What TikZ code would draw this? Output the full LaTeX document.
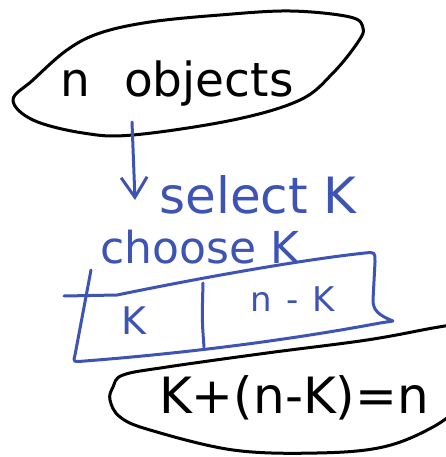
\documentclass[tikz,border=0pt]{standalone}
\usepackage{fontspec}
\setmainfont{DejaVu Sans}
\usetikzlibrary{arrows.meta}
\definecolor{ink}{RGB}{62,84,180}
\tikzset{
  pen/.style={line width=3pt, line cap=round, line join=round},
  bluepen/.style={pen, draw=ink},
  hand/.style={inner sep=0pt, anchor=base},
}
\begin{document}
\begin{tikzpicture}[x=1pt,y=-1pt]
\useasboundingbox (0,0) rectangle (446,457);
\clip (0,0) rectangle (446,457);
% top blob
\draw[pen] plot[smooth cycle, tension=0.6] coordinates {(13,100) (33,80) (67,50) (100,33) (150,22) (220,15) (290,11) (350,17) (363,28) (358,42) (333,73) (300,100) (233,120) (133,135) (83,133) (33,120)};
\node[hand, font=\fontsize{47}{47}\selectfont] (objs) at (177,97) {n\hspace{34pt}objects};
% arrow
\coordinate (aS) at (132,122);
\coordinate (aE) at (135,200);
\draw[bluepen, -{Straight Barb[length=20pt,width=26pt]}] (aS) -- (aE);
\node[hand, text=ink, font=\fontsize{50}{50}\selectfont] (sel) at (258,213) {select K};
\node[hand, text=ink, font=\fontsize{44}{44}\selectfont] (cho) at (200,263) {choose K};
% box
\draw[bluepen] (91,270) -- (75,355) .. controls (73,362) .. (85,361)
  .. controls (200,352) and (300,338) .. (380,323) -- (393,321)
  .. controls (378,315) and (373,310) .. (373,300) -- (375,262)
  .. controls (375,252) .. (365,253)
  .. controls (300,260) and (200,278) .. (117,295) -- (64,296);
\draw[bluepen] (203,283) .. controls (202,320) .. (204,347);
\node[hand, text=ink, font=\fontsize{38}{38}\selectfont] (k) at (134,334) {K};
\node[hand, text=ink, font=\fontsize{34}{34}\selectfont] (nk) at (293,311) {n\hspace{14pt}-\hspace{14pt}K};
% bottom blob
\draw[pen] plot[smooth, tension=0.6] coordinates {(470,322) (433,328) (367,340) (267,353) (167,367) (123,375) (113,387) (110,400) (120,417) (150,430) (233,450) (317,453) (383,447) (433,427) (470,400)};
\node[hand, font=\fontsize{50}{50}\selectfont] (eq) at (294,413) {K+(n-K)=n};
\end{tikzpicture}
\end{document}
